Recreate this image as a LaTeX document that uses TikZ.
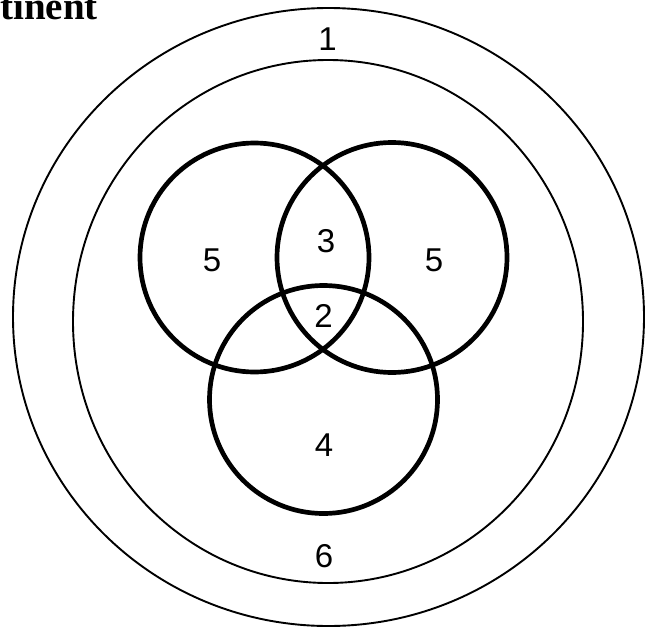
\documentclass[tikz,border=0pt]{standalone}
\usepackage{fontspec}
\setmainfont{Liberation Sans}
\newfontfamily\titlefont{Liberation Serif}
\begin{document}
\begin{tikzpicture}[x=1pt,y=-1pt,
  thinring/.style={draw=black,line width=1.9pt},
  thickring/.style={draw=black,line width=4.7pt},
  lbl/.style={inner sep=0pt,font=\fontsize{33}{33}\selectfont},
  ttl/.style={inner sep=0pt,anchor=base west,font=\titlefont\bfseries\fontsize{39}{39}\selectfont}]
\useasboundingbox (0,0) rectangle (652,626);
\begin{scope}
\clip (0,0) rectangle (652,626);
\node[ttl] (title) at (0,19.5) {tinent};
\draw[thinring] (328.5,317) ellipse [x radius=315.5, y radius=309];
\draw[thinring] (328,321.5) ellipse [x radius=255, y radius=261.5];
\draw[thickring] (254.5,257.5) circle [radius=114.5];
\draw[thickring] (392,257.5) circle [radius=115];
\draw[thickring] (323.5,399.5) circle [radius=114];
\end{scope}
\node[lbl] (l1) at (327.5,39) {1};
\node[lbl] (l3) at (326,241) {3};
\node[lbl] (l5a) at (212,260) {5};
\node[lbl] (l5b) at (434,260) {5};
\node[lbl] (l2) at (323.5,316) {2};
\node[lbl] (l4) at (324,445) {4};
\node[lbl] (l6) at (324,556) {6};
\end{tikzpicture}
\end{document}
